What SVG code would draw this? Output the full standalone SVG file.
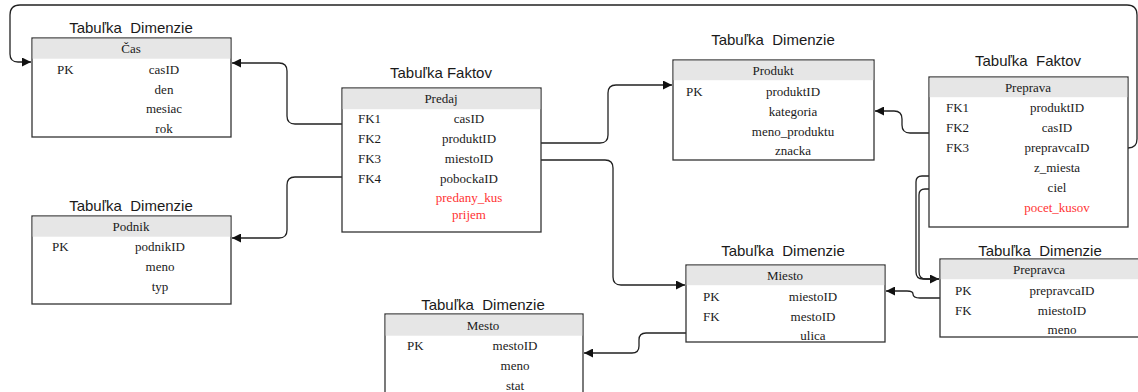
<svg xmlns="http://www.w3.org/2000/svg" width="1138" height="392" viewBox="0 0 1138 392">
<style>
.box{fill:#fff;stroke:#333;stroke-width:1.3}
.hdr{fill:#e6e6e6}
.ttl{font-family:"Liberation Sans",Arial,sans-serif;font-size:15px;fill:#1a1a1a;text-anchor:middle}
.c{font-family:"Liberation Serif","Times New Roman",serif;font-size:13px;fill:#1a1a1a}
.m{text-anchor:middle}
.red{fill:#ff3333}
.conn{fill:none;stroke:#222;stroke-width:1.3}
</style>
<defs>
<marker id="arr" viewBox="0 0 10 10" refX="10" refY="5" markerUnits="userSpaceOnUse" markerWidth="10" markerHeight="9" orient="auto">
<path d="M0,0 L10,5 L0,10 Z" fill="#111"/>
</marker>
</defs>
<g id="connectors">
<path class="conn" d="M342,124 H295 Q287,124 287,116 V71 Q287,63 279,63 H232" marker-end="url(#arr)"/>
<path class="conn" d="M342,177 H295 Q287,177 287,185 V230 Q287,238 279,238 H232" marker-end="url(#arr)"/>
<path class="conn" d="M541,143 H600 Q608,143 608,135 V93 Q608,85 616,85 H672" marker-end="url(#arr)"/>
<path class="conn" d="M541,160 H605 Q613,160 613,168 V277 Q613,285 621,285 H685" marker-end="url(#arr)"/>
<path class="conn" d="M686,333 H646 Q639,333 639,340 V346 Q639,353 632,353 H584" marker-end="url(#arr)"/>
<path class="conn" d="M929,133 H910 Q902,133 902,125 V119 Q902,111 894,111 H875" marker-end="url(#arr)"/>
<path class="conn" d="M940,298 H920 Q913,298 913,294 Q913,291 907,291 H886" marker-end="url(#arr)"/>
<path class="conn" d="M929,176 H922 Q916,176 916,182 V272 Q916,279 923,279 H939" marker-end="url(#arr)"/>
<path class="conn" d="M929,189 H925 Q919,189 919,195 V272 Q919,279 926,279 H939"/>
<path class="conn" d="M1128,148 Q1137,148 1137,139 V15 Q1137,5 1127,5 H20 Q10,5 10,15 V54 Q10,62 18,62 H31" marker-end="url(#arr)"/>
</g>
<g id="cas">
<text class="ttl" x="131" y="33" xml:space="preserve">Tabuľka  Dimenzie</text>
<rect class="box" x="32" y="38" width="199" height="99"/>
<rect class="hdr" x="32.7" y="38.7" width="197.6" height="20"/>
<text class="c m" x="131" y="53">Čas</text>
<text class="c" x="57" y="74">PK</text>
<text class="c m" x="164" y="74">casID</text>
<text class="c m" x="164" y="94">den</text>
<text class="c m" x="164" y="113">mesiac</text>
<text class="c m" x="164" y="133">rok</text>
</g>
<g id="podnik">
<text class="ttl" x="131" y="211" xml:space="preserve">Tabuľka  Dimenzie</text>
<rect class="box" x="32" y="216" width="199" height="88"/>
<rect class="hdr" x="32.7" y="216.7" width="197.6" height="20"/>
<text class="c m" x="131" y="231">Podnik</text>
<text class="c" x="52" y="251">PK</text>
<text class="c m" x="160" y="251">podnikID</text>
<text class="c m" x="160" y="271">meno</text>
<text class="c m" x="160" y="291">typ</text>
</g>
<g id="predaj">
<text class="ttl" x="441" y="78">Tabuľka Faktov</text>
<rect class="box" x="342" y="88" width="199" height="144"/>
<rect class="hdr" x="342.7" y="88.7" width="197.6" height="20.5"/>
<text class="c m" x="441" y="103">Predaj</text>
<text class="c" x="358" y="123">FK1</text>
<text class="c m" x="469" y="123">casID</text>
<text class="c" x="358" y="143">FK2</text>
<text class="c m" x="469" y="143">produktID</text>
<text class="c" x="358" y="163">FK3</text>
<text class="c m" x="469" y="163">miestoID</text>
<text class="c" x="358" y="183">FK4</text>
<text class="c m" x="469" y="183">pobockaID</text>
<text class="c m red" x="469" y="202">predany_kus</text>
<text class="c m red" x="469" y="219">prijem</text>
</g>
<g id="produkt">
<text class="ttl" x="773" y="45" xml:space="preserve">Tabuľka  Dimenzie</text>
<rect class="box" x="673" y="60" width="201" height="100"/>
<rect class="hdr" x="673.7" y="60.7" width="199.6" height="19.5"/>
<text class="c m" x="773" y="75">Produkt</text>
<text class="c" x="686" y="96">PK</text>
<text class="c m" x="793" y="96">produktID</text>
<text class="c m" x="793" y="116">kategoria</text>
<text class="c m" x="793" y="136">meno_produktu</text>
<text class="c m" x="793" y="155">znacka</text>
</g>
<g id="preprava">
<text class="ttl" x="1028" y="66" xml:space="preserve">Tabuľka  Faktov</text>
<rect class="box" x="929" y="77" width="199" height="150"/>
<rect class="hdr" x="929.7" y="77.7" width="197.6" height="19.5"/>
<text class="c m" x="1028" y="92">Preprava</text>
<text class="c" x="946" y="112">FK1</text>
<text class="c m" x="1057" y="112">produktID</text>
<text class="c" x="946" y="132">FK2</text>
<text class="c m" x="1057" y="132">casID</text>
<text class="c" x="946" y="152">FK3</text>
<text class="c m" x="1057" y="152">prepravcaID</text>
<text class="c m" x="1057" y="172">z_miesta</text>
<text class="c m" x="1057" y="192">ciel</text>
<text class="c m red" x="1057" y="212">pocet_kusov</text>
</g>
<g id="miesto">
<text class="ttl" x="783" y="256" xml:space="preserve">Tabuľka  Dimenzie</text>
<rect class="box" x="686" y="265" width="199" height="77"/>
<rect class="hdr" x="686.7" y="265.7" width="197.6" height="19.5"/>
<text class="c m" x="785" y="280">Miesto</text>
<text class="c" x="703" y="301">PK</text>
<text class="c m" x="813" y="301">miestoID</text>
<text class="c" x="703" y="321">FK</text>
<text class="c m" x="813" y="321">mestoID</text>
<text class="c m" x="813" y="340">ulica</text>
</g>
<g id="prepravca">
<text class="ttl" x="1040" y="256" xml:space="preserve">Tabuľka  Dimenzie</text>
<rect class="box" x="940" y="259" width="199" height="78"/>
<rect class="hdr" x="940.7" y="259.7" width="197.6" height="19.5"/>
<text class="c m" x="1039" y="274">Prepravca</text>
<text class="c" x="955" y="295">PK</text>
<text class="c m" x="1062" y="295">prepravcaID</text>
<text class="c" x="955" y="315">FK</text>
<text class="c m" x="1062" y="315">miestoID</text>
<text class="c m" x="1062" y="334">meno</text>
</g>
<g id="mesto">
<text class="ttl" x="483" y="310" xml:space="preserve">Tabuľka  Dimenzie</text>
<rect class="box" x="385" y="314" width="198" height="90"/>
<rect class="hdr" x="385.7" y="314.7" width="196.6" height="21"/>
<text class="c m" x="483" y="330">Mesto</text>
<text class="c" x="407" y="350">PK</text>
<text class="c m" x="515" y="350">mestoID</text>
<text class="c m" x="515" y="370">meno</text>
<text class="c m" x="515" y="390">stat</text>
</g>
</svg>
